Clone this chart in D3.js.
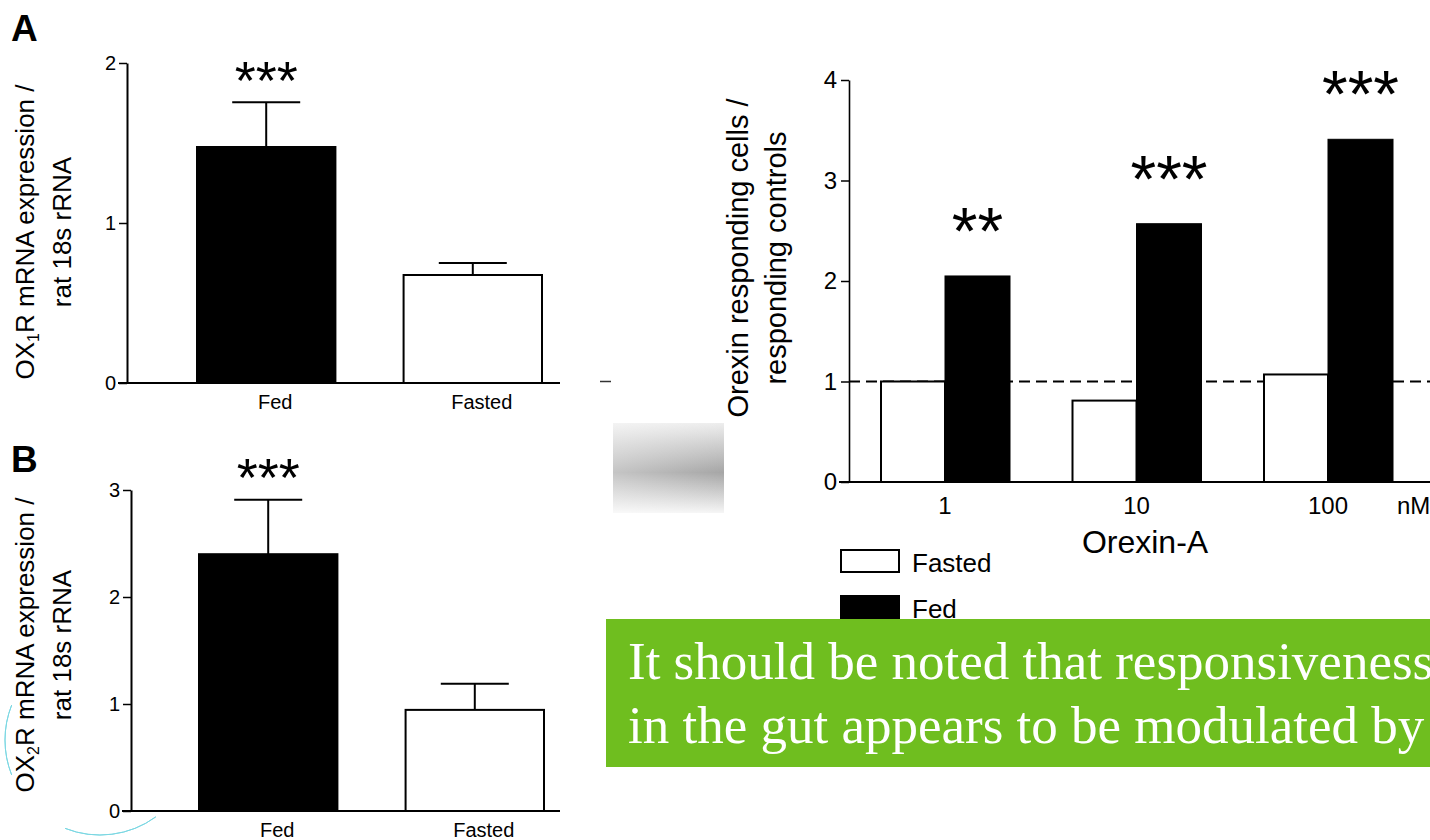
<!DOCTYPE html>
<html>
<head>
<meta charset="utf-8">
<script src="https://cdn.jsdelivr.net/npm/d3@7/dist/d3.min.js"></script>
<style>
  html, body { margin: 0; padding: 0; background: #fff; overflow: hidden; }
  svg { display: block; }
  .sans { font-family: "Liberation Sans", Arial, sans-serif; }
  .serif { font-family: "Liberation Serif", "Times New Roman", serif; }
</style>
</head>
<body>
<script>
// ---------------- data ----------------
const groupsAB = ["Fed", "Fasted"];
const ox1rMean = [1.475, 0.675];
const ox1rErr = [0.28, 0.075];
const ox2rMean = [2.40, 0.945];
const ox2rErr = [0.51, 0.245];
const signifAB = ["***", ""];
const ticksA = [0, 1, 2];
const ticksB = [0, 1, 2, 3];

const doses = ["1", "10", "100"];
const fastedRatio = [1.0, 0.81, 1.07];
const fedRatio = [2.05, 2.57, 3.41];
const signifDose = ["**", "***", "***"];
const ticksR = [0, 1, 2, 3, 4];
const legendItems = ["Fasted", "Fed"];

const noteLines = [
  "It should be noted that responsiveness",
  "in the gut appears to be modulated by"
];

// ---------------- canvas ----------------
const W = 1430, H = 840;
const svg = d3.select("body").append("svg").attr("width", W).attr("height", H);

// ---------------- left panels ----------------
function panel(opts) {
  const { axisX, yTop, yBottom, maxV, ticks, means, errs, sig, rangeX, letter, letterY, sub, titleCy, sigLift } = opts;
  const g = svg.append("g");
  const y = d3.scaleLinear().domain([0, maxV]).range([yBottom, yTop]);
  const x = d3.scaleBand().domain(groupsAB).range(rangeX).paddingInner(0.33).paddingOuter(0);

  // x baseline
  g.append("line").attr("x1", axisX - 9).attr("x2", 560)
    .attr("y1", y(0)).attr("y2", y(0)).attr("stroke", "#000").attr("stroke-width", 2);

  // bars
  g.selectAll("rect.bar").data(groupsAB).join("rect").attr("class", "bar")
    .attr("x", d => x(d)).attr("width", x.bandwidth())
    .attr("y", (d, i) => y(means[i])).attr("height", (d, i) => y(0) - y(means[i]))
    .attr("fill", (d, i) => i === 0 ? "#000" : "#fff")
    .attr("stroke", "#000").attr("stroke-width", 2);

  // error bars
  const capW = 68;
  g.selectAll("line.err").data(groupsAB).join("line").attr("class", "err")
    .attr("x1", d => x(d) + x.bandwidth() / 2).attr("x2", d => x(d) + x.bandwidth() / 2)
    .attr("y1", (d, i) => y(means[i])).attr("y2", (d, i) => y(means[i] + errs[i]))
    .attr("stroke", "#000").attr("stroke-width", 2);
  g.selectAll("line.cap").data(groupsAB).join("line").attr("class", "cap")
    .attr("x1", d => x(d) + x.bandwidth() / 2 - capW / 2).attr("x2", d => x(d) + x.bandwidth() / 2 + capW / 2)
    .attr("y1", (d, i) => y(means[i] + errs[i])).attr("y2", (d, i) => y(means[i] + errs[i]))
    .attr("stroke", "#000").attr("stroke-width", 2);

  // significance
  g.selectAll("text.sig").data(groupsAB).join("text").attr("class", "sig sans")
    .attr("x", d => x(d) + x.bandwidth() / 2)
    .attr("y", (d, i) => y(means[i] + errs[i]) - sigLift)
    .attr("text-anchor", "middle").attr("font-size", 54)
    .text((d, i) => sig[i]);

  // y axis
  const ax = g.append("g").attr("transform", `translate(${axisX},0)`)
    .call(d3.axisLeft(y).tickValues(ticks).tickSize(8).tickSizeOuter(0).tickPadding(3).tickFormat(d3.format("d")));
  ax.select(".domain").attr("stroke-width", 2);
  ax.selectAll(".tick line").attr("stroke-width", 1.5);
  ax.selectAll(".tick text").attr("class", "sans").attr("font-size", 20).attr("fill", "#000");

  // category labels
  g.selectAll("text.cat").data(groupsAB).join("text").attr("class", "cat sans")
    .attr("x", d => x(d) + x.bandwidth() / 2 + 9)
    .attr("y", y(0) + 26)
    .attr("text-anchor", "middle").attr("font-size", 20)
    .text(d => d);

  // panel letter
  g.append("text").attr("class", "sans").attr("x", 11).attr("y", letterY)
    .attr("font-size", 37).attr("font-weight", "bold").text(letter);

  // y title
  const t1 = g.append("text").attr("class", "sans").attr("font-size", 26).attr("text-anchor", "middle")
    .attr("transform", `translate(34,${titleCy}) rotate(-90)`);
  t1.append("tspan").text("OX");
  t1.append("tspan").attr("font-size", 16).attr("dy", 5).text(sub);
  t1.append("tspan").attr("dy", -5).text("R mRNA expression /");
  g.append("text").attr("class", "sans").attr("font-size", 26).attr("text-anchor", "middle")
    .attr("transform", `translate(71,${titleCy}) rotate(-90)`).text("rat 18s rRNA");
}

panel({ axisX: 127, yTop: 63, yBottom: 383, maxV: 2, ticks: ticksA, means: ox1rMean, errs: ox1rErr,
  sig: signifAB, rangeX: [197, 542], letter: "A", letterY: 41, sub: "1", titleCy: 232, sigLift: 3 });
panel({ axisX: 131, yTop: 490, yBottom: 811, maxV: 3, ticks: ticksB, means: ox2rMean, errs: ox2rErr,
  sig: signifAB, rangeX: [199, 544], letter: "B", letterY: 472, sub: "2", titleCy: 645, sigLift: 4 });

// faint cyan watermark near panel B
const wm = svg.append("g").attr("fill", "none").attr("stroke", "#43c6d6").attr("stroke-width", 1).attr("opacity", 0.7);
const wmArc = d3.arc().innerRadius(95).outerRadius(95);
wm.append("path").attr("transform", "translate(100,740)")
  .attr("d", wmArc({ startAngle: Math.PI * 1.38, endAngle: Math.PI * 1.62 }));
wm.append("path").attr("transform", "translate(100,740)")
  .attr("d", wmArc({ startAngle: Math.PI * 0.80, endAngle: Math.PI * 1.12 }));

// ---------------- right chart ----------------
const R = svg.append("g");
const axR = 849, yR0 = 482, yR4 = 80;
const yR = d3.scaleLinear().domain([0, 4]).range([yR0, yR4]);
const xR = d3.scalePoint().domain(doses).range([945, 1328]);
const bw = 64;

// gray smudge and small dash at left of chart
const defs = svg.append("defs");
const grad = defs.append("linearGradient").attr("id", "smudge").attr("x1", 0).attr("y1", 0).attr("x2", 0).attr("y2", 1);
grad.append("stop").attr("offset", "0%").attr("stop-color", "#eeeeee");
grad.append("stop").attr("offset", "55%").attr("stop-color", "#a6a6a6");
grad.append("stop").attr("offset", "100%").attr("stop-color", "#f6f6f6");
const gradH = defs.append("linearGradient").attr("id", "smudgeH").attr("x1", 0).attr("y1", 0).attr("x2", 1).attr("y2", 0);
gradH.append("stop").attr("offset", "0%").attr("stop-color", "#fff").attr("stop-opacity", 0.35);
gradH.append("stop").attr("offset", "100%").attr("stop-color", "#fff").attr("stop-opacity", 0);
R.append("rect").attr("x", 613).attr("y", 423).attr("width", 111).attr("height", 90).attr("fill", "url(#smudge)");
R.append("rect").attr("x", 613).attr("y", 423).attr("width", 111).attr("height", 90).attr("fill", "url(#smudgeH)");
R.append("line").attr("x1", 600).attr("x2", 611).attr("y1", yR(1)).attr("y2", yR(1)).attr("stroke", "#333").attr("stroke-width", 1.5);

// dashed reference line
R.append("line").attr("x1", axR).attr("x2", W).attr("y1", yR(1)).attr("y2", yR(1))
  .attr("stroke", "#000").attr("stroke-width", 2).attr("stroke-dasharray", "11,6");

// x baseline
R.append("line").attr("x1", axR - 10).attr("x2", W).attr("y1", yR(0)).attr("y2", yR(0))
  .attr("stroke", "#000").attr("stroke-width", 2);

// bars
R.selectAll("rect.fasted").data(doses).join("rect").attr("class", "fasted")
  .attr("x", d => xR(d) - bw).attr("width", bw)
  .attr("y", (d, i) => yR(fastedRatio[i])).attr("height", (d, i) => yR(0) - yR(fastedRatio[i]))
  .attr("fill", "#fff").attr("stroke", "#000").attr("stroke-width", 2);
R.selectAll("rect.fed").data(doses).join("rect").attr("class", "fed")
  .attr("x", d => xR(d)).attr("width", bw + 1)
  .attr("y", (d, i) => yR(fedRatio[i])).attr("height", (d, i) => yR(0) - yR(fedRatio[i]))
  .attr("fill", "#000").attr("stroke", "#000").attr("stroke-width", 1);

// significance
R.selectAll("text.sig").data(doses).join("text").attr("class", "sig sans")
  .attr("x", d => xR(d) + bw / 2 + 0.5)
  .attr("y", (d, i) => yR(fedRatio[i]) - 22)
  .attr("text-anchor", "middle").attr("font-size", 66)
  .text((d, i) => signifDose[i]);

// y axis
const axRg = R.append("g").attr("transform", `translate(${axR},0)`)
  .call(d3.axisLeft(yR).tickValues(ticksR).tickSize(8).tickSizeOuter(0).tickPadding(4).tickFormat(d3.format("d")));
axRg.select(".domain").attr("stroke-width", 1.6);
axRg.selectAll(".tick line").attr("stroke-width", 1.5);
axRg.selectAll(".tick text").attr("class", "sans").attr("font-size", 24).attr("fill", "#000");

// dose labels
R.selectAll("text.dose").data(doses).join("text").attr("class", "dose sans")
  .attr("x", d => xR(d)).attr("y", 514)
  .attr("text-anchor", "middle").attr("font-size", 24).text(d => d);
R.append("text").attr("class", "sans").attr("x", 1397).attr("y", 514).attr("font-size", 24).text("nM");
R.append("text").attr("class", "sans").attr("x", 1145).attr("y", 553)
  .attr("text-anchor", "middle").attr("font-size", 32).text("Orexin-A");

// y title
R.append("text").attr("class", "sans").attr("font-size", 29).attr("text-anchor", "middle")
  .attr("transform", "translate(748,258) rotate(-90)").text("Orexin responding cells /");
R.append("text").attr("class", "sans").attr("font-size", 29).attr("text-anchor", "middle")
  .attr("transform", "translate(786,258) rotate(-90)").text("responding controls");

// legend
const leg = R.selectAll("g.leg").data(legendItems).join("g").attr("class", "leg")
  .attr("transform", (d, i) => `translate(841,${550 + i * 46})`);
leg.append("rect").attr("x", 0).attr("y", 0).attr("width", 58).attr("height", 22)
  .attr("fill", (d, i) => i === 0 ? "#fff" : "#000").attr("stroke", "#000").attr("stroke-width", 2);
leg.append("text").attr("class", "sans").attr("x", 71).attr("y", 22).attr("font-size", 26).text(d => d);

// ---------------- green note box ----------------
const N = svg.append("g");
N.append("rect").attr("x", 606).attr("y", 619).attr("width", W - 606).attr("height", 148).attr("fill", "#6fbe1f");
N.selectAll("text").data(noteLines).join("text").attr("class", "serif")
  .attr("x", 628).attr("y", (d, i) => 679 + i * 64)
  .attr("font-size", 53).attr("fill", "#fff").text(d => d);
</script>
</body>
</html>
